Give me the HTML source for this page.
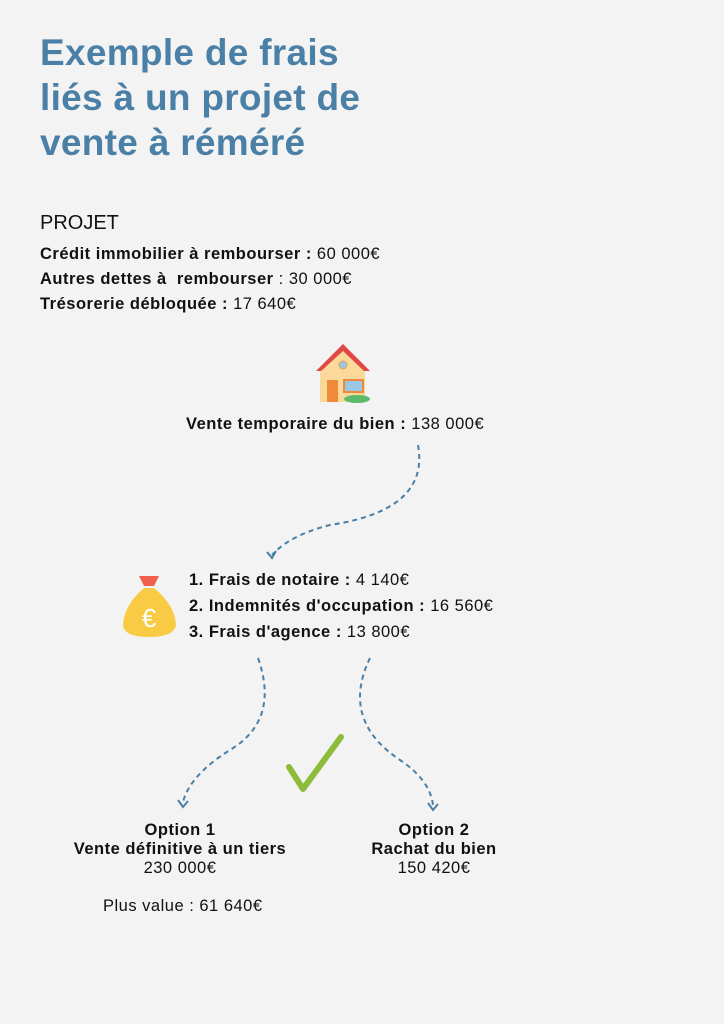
<!DOCTYPE html>
<html><head><meta charset="utf-8"><style>
body{margin:0;width:724px;height:1024px;background:#f3f3f3;position:relative;overflow:hidden;font-family:"Liberation Sans",sans-serif;color:#111}
.a{position:absolute;white-space:nowrap}
h1{position:absolute;left:40px;top:30px;margin:0;font-size:37px;line-height:45px;color:#4a7fa6;font-weight:bold;letter-spacing:0.3px}
.t{font-size:16.5px;letter-spacing:0.5px}
b{font-weight:bold}
.c{text-align:center;font-size:16.5px;line-height:19px;letter-spacing:0.5px}
</style></head><body>
<h1>Exemple de frais<br>liés à un projet de<br>vente à réméré</h1>
<div class="a" style="left:40px;top:212px;font-size:20px">PROJET</div>
<div class="a t" style="left:40px;top:245px"><b>Crédit immobilier à rembourser :</b> 60 000€</div>
<div class="a t" style="left:40px;top:270px"><b>Autres dettes à &nbsp;rembourser</b> : 30 000€</div>
<div class="a t" style="left:40px;top:295px"><b>Trésorerie débloquée :</b> 17 640€</div>
<svg class="a" style="left:0;top:0" width="724" height="1024">
<polygon points="343,344 370,371 316,371" fill="#e04848"/>
<polygon points="343,351 365,372 365,402 320,402 320,372" fill="#fbd99a"/>
<circle cx="343" cy="365" r="4" fill="#9cc7e3" stroke="#e8a050"/>
<rect x="327" y="380" width="11" height="22" fill="#ef8a3a"/>
<rect x="344" y="380" width="19" height="12" fill="#9cc7e3" stroke="#ef8a3a" stroke-width="2"/>
<ellipse cx="357" cy="399" rx="13" ry="4" fill="#5cba6a"/>
<polygon points="139,576 159,576 154,586 144,586" fill="#f0604a"/>
<path d="M144,588 Q124,605 123,625 Q124,637 149,637 Q174,637 176,625 Q175,605 154,588Z" fill="#f9cb45"/>
<text x="149" y="627" font-size="26" fill="#fff" text-anchor="middle" font-family="Liberation Sans">€</text>
<g fill="none" stroke="#4a7fa6" stroke-width="2" stroke-dasharray="5,4">
<path d="M418,445 Q430,510 330,525 Q290,535 272,555"/>
<path d="M258,658 Q280,720 230,750 Q190,775 183,802"/>
<path d="M370,658 Q340,720 400,760 Q430,780 433,805"/>
</g>
<g fill="none" stroke="#4a7fa6" stroke-width="2">
<path d="M267,552 l5,6 l4,-7"/><path d="M178,800 l5,7 l5,-6"/><path d="M428,803 l5,7 l5,-6"/>
</g>
<path d="M289,767 L303,789 L341,737" fill="none" stroke="#8dbb3a" stroke-width="6" stroke-linecap="round" stroke-linejoin="round"/>
</svg>
<div class="a t" style="left:186px;top:415px"><b>Vente temporaire du bien :</b> 138 000€</div>
<div class="a t" style="left:189px;top:571px"><b>1. Frais de notaire :</b> 4 140€</div>
<div class="a t" style="left:189px;top:597px"><b>2. Indemnités d'occupation :</b> 16 560€</div>
<div class="a t" style="left:189px;top:623px"><b>3. Frais d'agence :</b> 13 800€</div>
<div class="a c" style="left:40px;width:280px;top:821px"><b>Option 1<br>Vente définitive à un tiers</b><br>230 000€</div>
<div class="a c" style="left:334px;width:200px;top:821px"><b>Option 2<br>Rachat du bien</b><br>150 420€</div>
<div class="a t" style="left:103px;top:897px">Plus value : 61 640€</div>
</body></html>
